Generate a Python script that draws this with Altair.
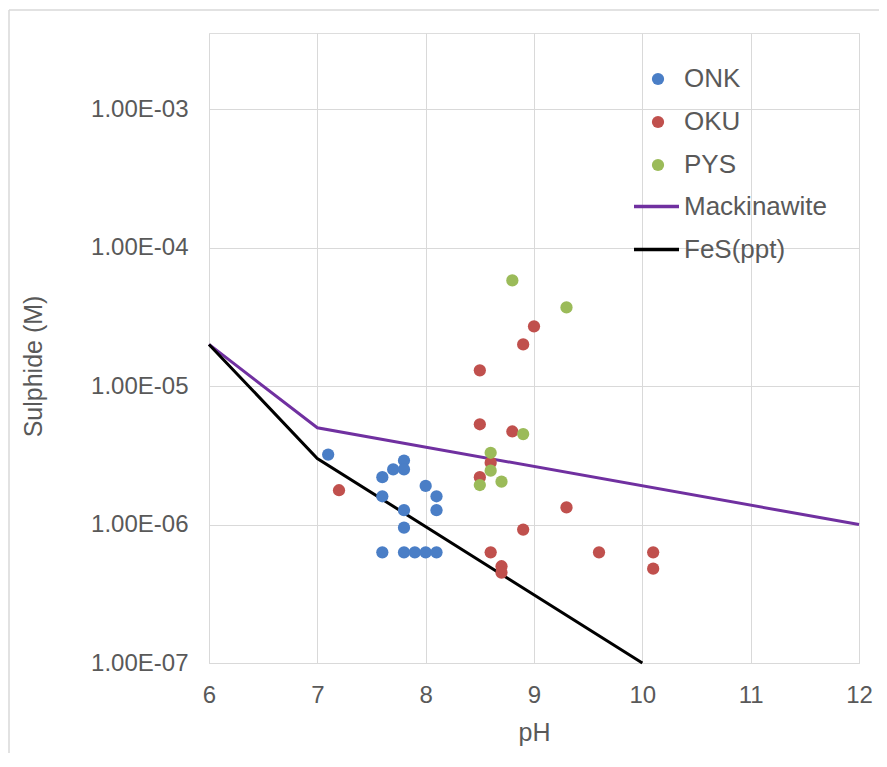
import altair as alt
import pandas as pd

# ---------------- data ----------------
onk_ph = [7.1, 7.6, 7.6, 7.6, 7.7, 7.8, 7.8, 7.8, 7.8, 7.8, 7.9, 8.0, 8.0, 8.1, 8.1, 8.1]
onk_s = [3.2e-6, 2.2e-6, 1.6e-6, 6.3e-7, 2.5e-6, 2.9e-6, 2.5e-6, 1.27e-6, 9.5e-7, 6.3e-7,
         6.3e-7, 1.9e-6, 6.3e-7, 1.6e-6, 1.27e-6, 6.3e-7]

oku_ph = [7.2, 8.5, 8.5, 8.5, 8.6, 8.6, 8.7, 8.7, 8.8, 8.9, 8.9, 9.0, 9.3, 9.6, 10.1, 10.1]
oku_s = [1.77e-6, 1.3e-5, 5.3e-6, 2.2e-6, 2.8e-6, 6.3e-7, 5.0e-7, 4.5e-7, 4.7e-6, 2.0e-5,
         9.2e-7, 2.7e-5, 1.33e-6, 6.3e-7, 6.3e-7, 4.8e-7]

pys_ph = [8.5, 8.6, 8.6, 8.7, 8.8, 8.9, 9.3]
pys_s = [1.93e-6, 3.3e-6, 2.45e-6, 2.04e-6, 5.8e-5, 4.5e-6, 3.7e-5]

mack_ph = [6, 7, 12]
mack_s = [2.0e-5, 5.0e-6, 1.0e-6]

fes_ph = [6, 7, 10]
fes_s = [2.0e-5, 3.0e-6, 1.0e-7]

series_names = ["ONK", "OKU", "PYS"]
series_colors = ["#4A7EC6", "#C0504D", "#9BBB59"]
curve_names = ["Mackinawite", "FeS(ppt)"]
curve_colors = ["#7030A0", "#000000"]

x_ticks = [6, 7, 8, 9, 10, 11, 12]
y_ticks = [1e-7, 1e-6, 1e-5, 1e-4, 1e-3]
y_tick_labels = ["1.00E-07", "1.00E-06", "1.00E-05", "1.00E-04", "1.00E-03"]

# ---------------- tables ----------------
pts = pd.concat([
    pd.DataFrame({"pH": onk_ph, "S": onk_s, "series": "ONK"}),
    pd.DataFrame({"pH": oku_ph, "S": oku_s, "series": "OKU"}),
    pd.DataFrame({"pH": pys_ph, "S": pys_s, "series": "PYS"}),
], ignore_index=True)

lines = pd.concat([
    pd.DataFrame({"pH": mack_ph, "S": mack_s, "curve": "Mackinawite"}),
    pd.DataFrame({"pH": fes_ph, "S": fes_s, "curve": "FeS(ppt)"}),
], ignore_index=True)

FONT = "Liberation Sans"
TXT = "#595959"
GRID = "#d9d9d9"

label_list = "[" + ",".join("'" + s + "'" for s in y_tick_labels) + "]"

x_enc = alt.X("pH:Q",
              scale=alt.Scale(domain=[6, 12], nice=False, zero=False),
              axis=alt.Axis(values=x_ticks, title="pH", grid=True, gridColor=GRID,
                            domainColor=GRID, ticks=False, labelPadding=20,
                            labelFontSize=24, labelColor=TXT, labelFont=FONT,
                            titleFontSize=25, titleColor=TXT, titleFont=FONT,
                            titleFontWeight="normal", titlePadding=13,
                            labelFlush=False))
y_enc = alt.Y("S:Q",
              scale=alt.Scale(type="log", domain=[1e-7, 3.55e-3], nice=False),
              axis=alt.Axis(values=y_ticks, title="Sulphide (M)", grid=True, gridColor=GRID,
                            domain=False, ticks=False, labelPadding=21,
                            labelExpr=label_list + "[round(log(datum.value)/LN10)+7]",
                            labelFontSize=24, labelColor=TXT, labelFont=FONT,
                            titleFontSize=25, titleColor=TXT, titleFont=FONT,
                            titleFontWeight="normal", titlePadding=44, titleY=333))

one = pd.DataFrame({"k": [0]})
frame_left = alt.Chart(one).mark_rule(color=GRID, strokeWidth=1.5).encode(
    x=alt.value(-200), y=alt.value(-23), y2=alt.value(740))
frame_top = alt.Chart(one).mark_rule(color=GRID, strokeWidth=1.5).encode(
    x=alt.value(-200), x2=alt.value(680), y=alt.value(-23))

line_layer = alt.Chart(lines).mark_line(strokeWidth=3).encode(
    x=x_enc, y=y_enc,
    stroke=alt.Stroke("curve:N",
                      scale=alt.Scale(domain=curve_names, range=curve_colors),
                      legend=alt.Legend(title=None, orient="none", legendX=423, legendY=149,
                                        symbolType="stroke", symbolSize=2025,
                                        symbolStrokeWidth=3.5, labelOffset=3,
                                        labelFontSize=26, labelColor=TXT, labelFont=FONT,
                                        rowPadding=5, padding=0)),
)

point_layer = alt.Chart(pts).mark_circle(size=150, opacity=1).encode(
    x=x_enc, y=y_enc,
    fill=alt.Fill("series:N",
                  scale=alt.Scale(domain=series_names, range=series_colors),
                  legend=alt.Legend(title=None, orient="none", legendX=436, legendY=33,
                                    symbolType="circle", symbolSize=150,
                                    symbolStrokeWidth=0, labelOffset=13,
                                    labelFontSize=26, labelColor=TXT, labelFont=FONT,
                                    rowPadding=17, padding=0)),
)

chart = alt.layer(frame_left, frame_top, line_layer, point_layer).properties(
    width=650, height=630,
    autosize=alt.AutoSizeParams(type="none"),
    padding={"left": 201, "top": 25, "right": 20, "bottom": 90},
).configure_view(stroke=None).configure(font=FONT, background="white")

chart.save("out.html", embed_options={"renderer": "svg", "actions": False})
